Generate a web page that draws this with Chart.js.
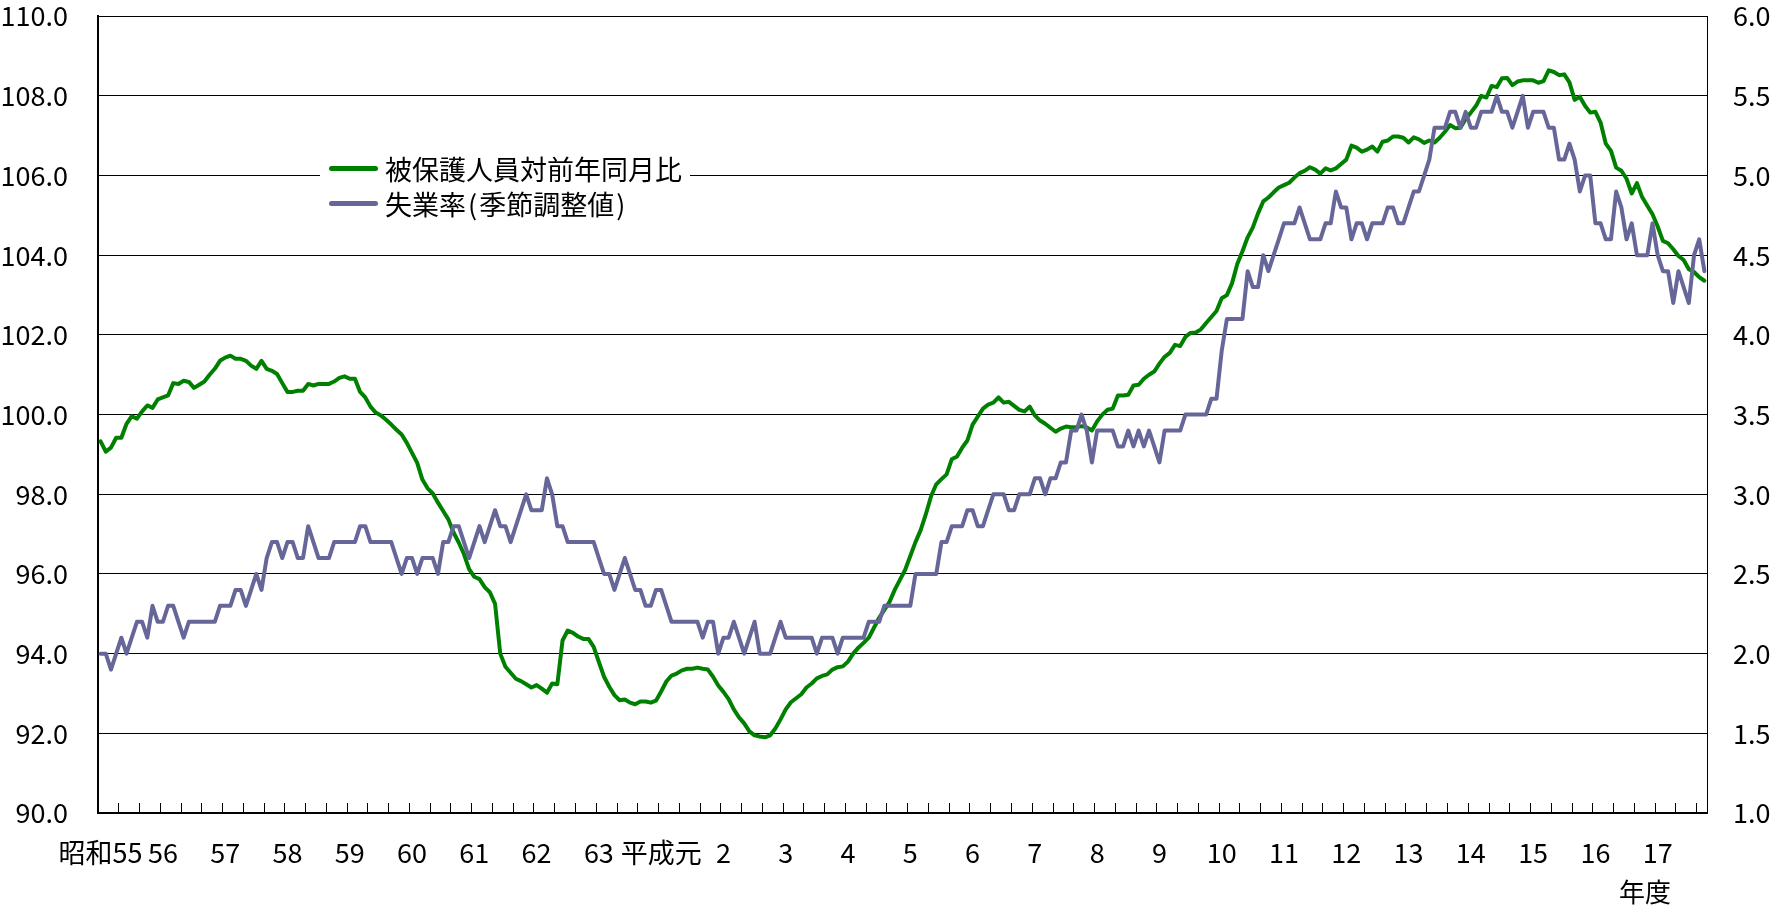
<!DOCTYPE html>
<html>
<head>
<meta charset="utf-8">
<script src="https://cdn.jsdelivr.net/npm/chart.js@4.4.1/dist/chart.umd.min.js"></script>
<style>
html,body{margin:0;padding:0;background:#fff;}
#wrap{position:relative;width:1790px;height:906px;overflow:hidden;}
canvas{display:block;}
#legend{position:absolute;left:320px;top:148px;width:370px;height:74px;background:#fff;font-family:"Noto Sans CJK JP",sans-serif;font-size:27px;color:#000;}
.row{position:absolute;left:9px;height:34px;display:flex;align-items:center;white-space:nowrap;}
.swatch{width:49px;height:5px;border-radius:3px;margin-right:7px;flex:none;}
.p{padding:0 2px;}
#unit{position:absolute;left:1619px;top:873px;font-family:"Noto Sans CJK JP",sans-serif;font-size:26px;line-height:36px;color:#000;}
</style>
</head>
<body>
<div id="wrap">
<canvas id="c" width="1790" height="906"></canvas>
<div id="legend">
  <div class="row" style="top:3px"><span class="swatch" style="background:#008000"></span><span>被保護人員対前年同月比</span></div>
  <div class="row" style="top:38px"><span class="swatch" style="background:#666699"></span><span>失業率<span class="p">(</span>季節調整値<span class="p">)</span></span></div>
</div>
<div id="unit">年度</div>
</div>
<script>
// Fiscal-year tick labels (each fiscal year starts in April)
const fiscalYears = ['昭和55','56','57','58','59','60','61','62','63','平成元','2','3','4','5','6','7','8','9','10','11','12','13','14','15','16','17'];
const monthsInYear = [12,12,12,12,12,12,12,12,12,12,12,12,12,12,12,12,12,12,12,12,12,12,12,12,12,10];

// 被保護人員対前年同月比 (left axis), monthly from 昭和55年4月
const protectedRatio = [
 99.33, 99.07, 99.17, 99.42, 99.42, 99.77, 99.96, 99.90,100.08,100.23,
100.17,100.38,100.43,100.48,100.79,100.77,100.85,100.82,100.67,100.75,
100.83,101.00,101.15,101.35,101.43,101.48,101.40,101.40,101.35,101.23,
101.15,101.35,101.15,101.10,101.02,100.79,100.57,100.57,100.60,100.60,
100.77,100.73,100.77,100.77,100.77,100.83,100.92,100.96,100.90,100.90,
100.57,100.43,100.20,100.05, 99.98, 99.87, 99.75, 99.62, 99.50, 99.29,
 99.04, 98.79, 98.37, 98.15, 98.02, 97.79, 97.58, 97.37, 97.04, 96.79,
 96.50, 96.12, 95.93, 95.87, 95.67, 95.54, 95.25, 94.00, 93.67, 93.52,
 93.37, 93.31, 93.23, 93.15, 93.21, 93.12, 93.02, 93.25, 93.23, 94.33,
 94.58, 94.52, 94.43, 94.37, 94.37, 94.17, 93.79, 93.42, 93.17, 92.96,
 92.83, 92.85, 92.77, 92.73, 92.80, 92.80, 92.77, 92.82, 93.05, 93.30,
 93.45, 93.50, 93.58, 93.62, 93.62, 93.65, 93.62, 93.60, 93.42, 93.20,
 93.04, 92.86, 92.60, 92.40, 92.25, 92.05, 91.95, 91.92, 91.90, 91.95,
 92.12, 92.35, 92.60, 92.78, 92.88, 92.98, 93.15, 93.25, 93.38, 93.44,
 93.48, 93.60, 93.66, 93.68, 93.80, 94.00, 94.15, 94.27, 94.40, 94.65,
 94.90, 95.10, 95.30, 95.60, 95.85, 96.10, 96.45, 96.80, 97.10, 97.50,
 97.95, 98.25, 98.38, 98.50, 98.88, 98.95, 99.17, 99.35, 99.75, 99.95,
100.15,100.25,100.30,100.43,100.30,100.32,100.22,100.12,100.08,100.20,
 99.98, 99.85, 99.77, 99.67, 99.57, 99.65, 99.70, 99.68, 99.68, 99.71,
 99.68, 99.60, 99.83,100.00,100.12,100.15,100.48,100.48,100.50,100.73,
100.75,100.90,101.00,101.08,101.28,101.45,101.55,101.75,101.72,101.95,
102.05,102.06,102.14,102.30,102.45,102.60,102.92,103.00,103.30,103.78,
104.10,104.45,104.70,105.05,105.35,105.45,105.58,105.70,105.76,105.82,
105.95,106.06,106.12,106.21,106.15,106.05,106.18,106.13,106.18,106.29,
106.40,106.75,106.70,106.60,106.65,106.73,106.60,106.85,106.88,106.98,
106.98,106.95,106.83,106.96,106.91,106.82,106.88,106.83,106.95,107.10,
107.27,107.19,107.20,107.42,107.58,107.75,108.00,107.96,108.25,108.22,
108.44,108.45,108.27,108.36,108.39,108.39,108.39,108.33,108.37,108.64,
108.60,108.52,108.54,108.34,107.90,107.98,107.75,107.58,107.60,107.33,
106.80,106.62,106.20,106.12,105.92,105.55,105.81,105.46,105.24,105.03,
104.72,104.36,104.30,104.15,103.98,103.88,103.65,103.58,103.45,103.36
];

// 失業率(季節調整値) (right axis), monthly from 昭和55年4月
const unemploymentRate = [
2.0,2.0,1.9,2.0,2.1,2.0,2.1,2.2,2.2,2.1,
2.3,2.2,2.2,2.3,2.3,2.2,2.1,2.2,2.2,2.2,
2.2,2.2,2.2,2.3,2.3,2.3,2.4,2.4,2.3,2.4,
2.5,2.4,2.6,2.7,2.7,2.6,2.7,2.7,2.6,2.6,
2.8,2.7,2.6,2.6,2.6,2.7,2.7,2.7,2.7,2.7,
2.8,2.8,2.7,2.7,2.7,2.7,2.7,2.6,2.5,2.6,
2.6,2.5,2.6,2.6,2.6,2.5,2.7,2.7,2.8,2.8,
2.7,2.6,2.7,2.8,2.7,2.8,2.9,2.8,2.8,2.7,
2.8,2.9,3.0,2.9,2.9,2.9,3.1,3.0,2.8,2.8,
2.7,2.7,2.7,2.7,2.7,2.7,2.6,2.5,2.5,2.4,
2.5,2.6,2.5,2.4,2.4,2.3,2.3,2.4,2.4,2.3,
2.2,2.2,2.2,2.2,2.2,2.2,2.1,2.2,2.2,2.0,
2.1,2.1,2.2,2.1,2.0,2.1,2.2,2.0,2.0,2.0,
2.1,2.2,2.1,2.1,2.1,2.1,2.1,2.1,2.0,2.1,
2.1,2.1,2.0,2.1,2.1,2.1,2.1,2.1,2.2,2.2,
2.2,2.3,2.3,2.3,2.3,2.3,2.3,2.5,2.5,2.5,
2.5,2.5,2.7,2.7,2.8,2.8,2.8,2.9,2.9,2.8,
2.8,2.9,3.0,3.0,3.0,2.9,2.9,3.0,3.0,3.0,
3.1,3.1,3.0,3.1,3.1,3.2,3.2,3.4,3.4,3.5,
3.4,3.2,3.4,3.4,3.4,3.4,3.3,3.3,3.4,3.3,
3.4,3.3,3.4,3.3,3.2,3.4,3.4,3.4,3.4,3.5,
3.5,3.5,3.5,3.5,3.6,3.6,3.9,4.1,4.1,4.1,
4.1,4.4,4.3,4.3,4.5,4.4,4.5,4.6,4.7,4.7,
4.7,4.8,4.7,4.6,4.6,4.6,4.7,4.7,4.9,4.8,
4.8,4.6,4.7,4.7,4.6,4.7,4.7,4.7,4.8,4.8,
4.7,4.7,4.8,4.9,4.9,5.0,5.1,5.3,5.3,5.3,
5.4,5.4,5.3,5.4,5.3,5.3,5.4,5.4,5.4,5.5,
5.4,5.4,5.3,5.4,5.5,5.3,5.4,5.4,5.4,5.3,
5.3,5.1,5.1,5.2,5.1,4.9,5.0,5.0,4.7,4.7,
4.6,4.6,4.9,4.8,4.6,4.7,4.5,4.5,4.5,4.7,
4.5,4.4,4.4,4.2,4.4,4.3,4.2,4.5,4.6,4.4
];

// Build monthly categories: fiscal-year label on the first month (April) of each year
const categories = [];
fiscalYears.forEach((fy, k) => {
  for (let m = 0; m < monthsInYear[k]; m++) categories.push(m === 0 ? fy : '');
});
const categoryKeys = categories.map((c, i) => 'm' + i);

const tickFont = { family: '"Liberation Sans Narrow","Noto Sans CJK JP",sans-serif', size: 27 };

new Chart(document.getElementById('c'), {
  type: 'line',
  data: {
    labels: categoryKeys,
    datasets: [
      { label: '被保護人員対前年同月比', data: protectedRatio, yAxisID: 'yL', borderColor: '#008000', backgroundColor: '#008000', borderWidth: 4, pointRadius: 0, tension: 0, borderJoinStyle: 'round', borderCapStyle: 'round', order: 1 },
      { label: '失業率(季節調整値)', data: unemploymentRate, yAxisID: 'yR', borderColor: '#666699', backgroundColor: '#666699', borderWidth: 4, pointRadius: 0, tension: 0, borderJoinStyle: 'round', borderCapStyle: 'round', order: 0 }
    ]
  },
  options: {
    responsive: false,
    devicePixelRatio: 1,
    animation: false,
    layout: { padding: { top: 15, left: 0, right: 0, bottom: 0 } },
    plugins: { legend: { display: false }, tooltip: { enabled: false } },
    scales: {
      x: {
        type: 'category',
        offset: true,
        grid: {
          offset: true,
          drawOnChartArea: false,
          drawTicks: true,
          tickLength: -10,
          lineWidth: 1,
          color: ctx => (ctx.index % 4 === 0 ? '#000' : 'rgba(0,0,0,0)')
        },
        border: { display: true, color: '#000', width: 2 },
        ticks: {
          autoSkip: false, maxRotation: 0, minRotation: 0, padding: 34,
          color: '#000', font: tickFont,
          callback: (v, i) => categories[i]
        },
        afterFit: s => { s.height = 93; }
      },
      yL: {
        position: 'left',
        min: 90, max: 110,
        grid: { color: '#000', lineWidth: 1, drawTicks: true, tickLength: 30, tickColor: 'rgba(0,0,0,0)' },
        border: { display: true, color: '#000', width: 2 },
        ticks: { stepSize: 2, padding: 0, color: '#000', font: tickFont, callback: v => v.toFixed(1) },
        afterFit: s => { s.width = 98; }
      },
      yR: {
        position: 'right',
        min: 1, max: 6,
        grid: { drawOnChartArea: false, drawTicks: true, tickLength: 26, tickColor: 'rgba(0,0,0,0)' },
        border: { display: true, color: '#000', width: 1 },
        ticks: { stepSize: 0.5, padding: 0, color: '#000', font: tickFont, callback: v => v.toFixed(1) },
        afterFit: s => { s.width = 83; }
      }
    }
  }
});
</script>
</body>
</html>
